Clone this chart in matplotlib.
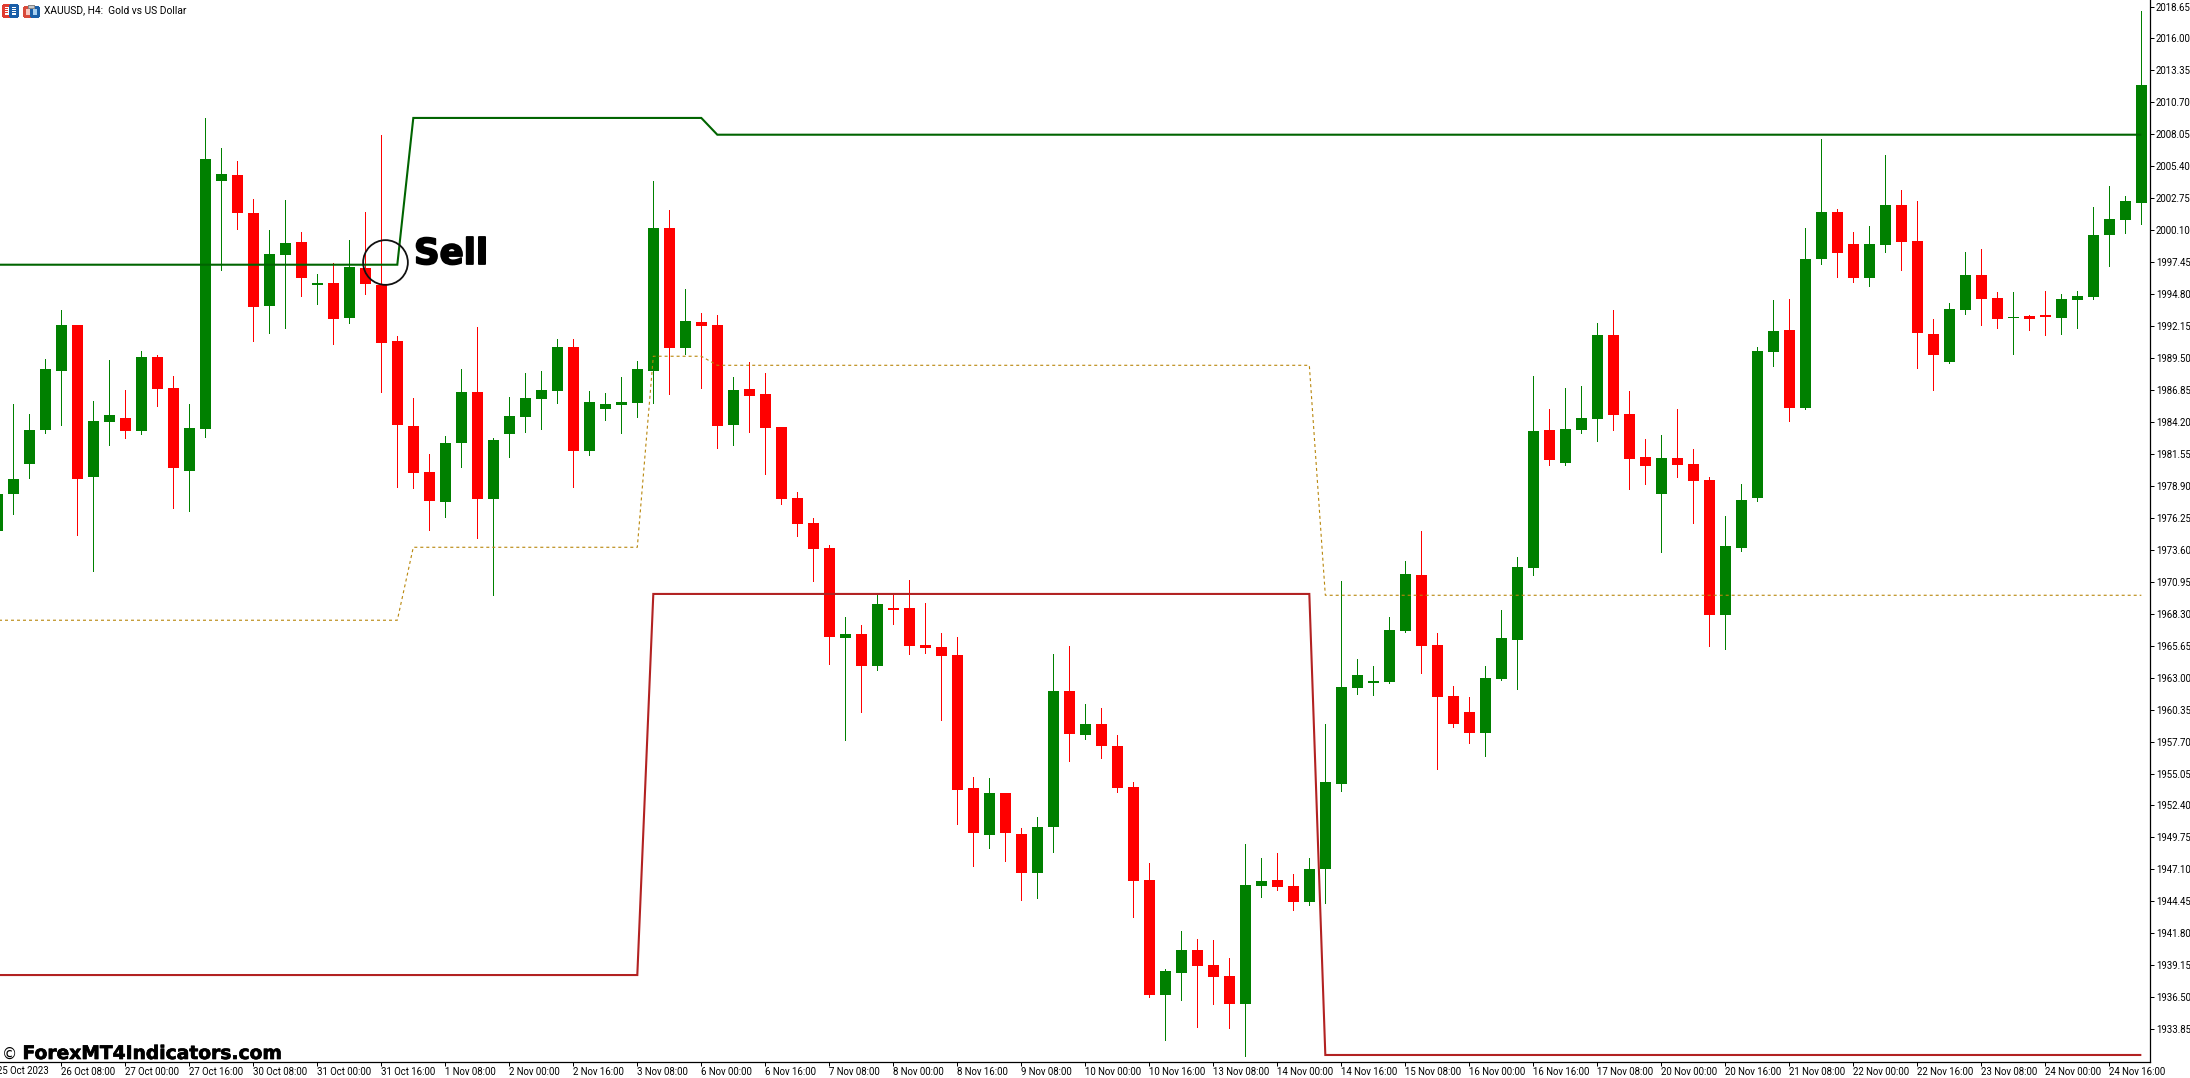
import matplotlib
matplotlib.use("Agg")
import matplotlib.pyplot as plt
import matplotlib.patheffects as pe
from matplotlib.patches import Rectangle

opens = [1975.16,1978.23,1980.72,1983.54,1988.43,1992.24,1979.64,1984.20,1984.53,1983.45,
         1989.59,1987.02,1980.14,1983.62,2004.18,2004.68,2001.53,1993.82,1998.05,1999.13,
         1995.56,1995.73,1992.82,1996.97,1995.56,1990.92,1983.87,1980.05,1977.57,1982.46,
         1986.69,1977.81,1983.20,1984.61,1986.11,1986.77,1990.41,1981.79,1985.27,1985.60,
         1985.77,1988.42,2000.28,1990.33,1992.49,1992.24,1983.95,1986.93,1986.52,1983.78,
         1977.89,1975.82,1973.75,1966.29,1966.62,1963.97,1968.78,1968.77,1965.70,1965.54,
         1964.87,1953.84,1949.95,1953.43,1950.03,1946.80,1950.61,1961.89,1958.24,1959.15,
         1957.33,1953.93,1946.22,1936.68,1938.50,1940.41,1939.17,1938.26,1935.93,1945.72,
         1946.22,1945.72,1944.39,1947.13,1954.18,1962.14,1962.55,1962.63,1966.86,1971.51,
         1965.70,1961.47,1960.15,1958.41,1962.89,1966.12,1972.09,1983.53,1980.80,1983.53,
         1984.45,1991.41,1984.86,1981.30,1978.23,1981.21,1980.72,1979.39,1968.19,1973.75,
         1977.90,1990.00,1991.83,1985.36,1997.71,2001.61,1998.96,1996.14,1998.87,2002.19,
         1999.21,1991.49,1989.17,1993.48,1996.39,1994.48,1992.82,1992.99,1993.07,1992.82,
         1994.31,1994.56,1999.70,2000.95,2002.36]
closes = [1978.23,1979.47,1983.54,1988.59,1992.24,1979.47,1984.28,1984.78,1983.45,1989.59,
          1986.94,1980.39,1983.70,2006.01,2004.76,2001.53,1993.74,1998.13,1999.04,1996.14,
          1995.73,1992.74,1997.05,1995.64,1990.75,1983.95,1979.97,1977.65,1982.46,1986.69,
          1977.81,1982.71,1984.70,1986.19,1986.85,1990.42,1981.79,1985.85,1985.69,1985.85,
          1988.59,2000.28,1990.33,1992.57,1992.16,1983.86,1986.85,1986.35,1983.70,1977.81,
          1975.74,1973.66,1966.37,1966.62,1963.97,1969.11,1968.61,1965.62,1965.45,1964.79,
          1953.68,1950.11,1953.43,1950.11,1946.80,1950.61,1961.89,1958.32,1959.15,1957.33,
          1953.84,1946.13,1936.68,1938.67,1940.41,1939.08,1938.17,1935.93,1945.80,1946.13,
          1945.64,1944.39,1947.13,1954.34,1962.22,1963.21,1962.72,1966.95,1971.59,1965.62,
          1961.39,1959.15,1958.41,1962.97,1966.29,1972.17,1983.45,1981.05,1983.62,1984.53,
          1991.41,1984.78,1981.13,1980.55,1981.21,1980.63,1979.31,1968.19,1973.92,1977.73,
          1990.09,1991.74,1985.36,1997.71,2001.61,1998.21,1996.14,1998.96,2002.19,1999.12,
          1991.58,1989.75,1993.57,1996.39,1994.40,1992.74,1992.90,1992.74,1992.90,1994.40,
          1994.65,1999.70,2001.03,2002.52,2012.14]
highs = [1978.81,1985.69,1984.86,1989.42,1993.49,1992.24,1985.94,1989.34,1986.85,1990.09,
         1989.76,1988.01,1985.69,2009.41,2006.92,2005.84,2002.69,2000.12,2002.61,1999.95,
         1996.47,1997.38,1999.29,2001.61,2008.00,1991.33,1986.19,1981.55,1983.04,1988.59,
         1992.08,1982.87,1986.27,1988.26,1988.43,1991.08,1991.08,1986.77,1986.60,1987.93,
         1989.25,2004.18,2001.77,1995.22,1993.23,1993.07,1987.93,1989.17,1988.26,1983.78,
         1978.39,1976.23,1974.00,1968.03,1967.36,1969.89,1969.89,1971.09,1969.18,1966.70,
         1966.37,1954.76,1954.67,1953.43,1950.53,1951.44,1964.96,1965.62,1960.81,1960.48,
         1958.24,1954.34,1947.62,1938.84,1941.99,1941.32,1941.24,1939.75,1949.20,1948.04,
         1948.45,1946.71,1948.04,1959.15,1971.01,1964.54,1963.96,1968.02,1972.67,1975.16,
         1966.70,1962.30,1961.39,1963.97,1968.61,1973.00,1988.01,1985.28,1987.02,1987.18,
         1992.41,1993.48,1986.77,1982.79,1983.12,1985.28,1981.96,1979.64,1976.40,1979.06,
         1990.42,1994.31,1994.40,2000.28,2007.66,2001.86,1999.95,2000.45,2006.34,2003.44,
         2002.52,1992.74,1994.06,1998.29,1998.54,1994.98,1994.98,1993.07,1995.06,1994.81,
         1995.06,2002.03,2003.77,2002.94,2018.28]
lows = [1974.99,1976.57,1979.56,1983.32,1983.95,1974.83,1971.84,1982.29,1982.87,1983.20,
        1985.53,1977.07,1976.82,1982.96,1996.80,2000.20,1990.92,1991.58,1991.99,1994.65,
        1993.98,1990.67,1992.41,1994.81,1986.69,1978.81,1978.73,1975.24,1976.32,1980.47,
        1974.58,1969.85,1981.30,1983.37,1983.62,1985.77,1978.81,1981.46,1984.36,1983.28,
        1984.61,1985.77,1986.52,1989.83,1987.01,1982.04,1982.29,1983.37,1979.88,1977.40,
        1974.74,1971.01,1964.13,1957.83,1960.15,1963.63,1967.45,1964.96,1965.04,1959.48,
        1950.86,1947.38,1948.87,1947.79,1944.56,1944.72,1948.54,1956.08,1957.91,1956.33,
        1953.51,1943.15,1936.51,1932.95,1936.27,1934.03,1935.93,1933.94,1931.62,1944.81,
        1945.39,1943.73,1944.14,1944.31,1953.60,1961.64,1961.56,1962.55,1966.78,1963.38,
        1955.42,1958.90,1957.58,1956.50,1962.80,1962.06,1971.51,1980.63,1980.63,1983.29,
        1982.62,1983.53,1978.64,1979.06,1973.42,1979.64,1975.82,1965.62,1965.37,1973.50,
        1977.65,1988.84,1984.28,1985.30,1997.30,1996.22,1995.81,1995.47,1998.29,1996.80,
        1988.68,1986.85,1989.09,1993.15,1992.24,1991.99,1989.84,1991.83,1991.41,1991.49,
        1991.99,1994.40,1997.13,1999.87,2000.62]

upper_idx = [0, 25, 26, 44, 45, 134]
upper_val = [1997.24, 1997.24, 2009.41, 2009.41, 2008.02, 2008.02]
lower_idx = [0, 40, 41, 82, 83, 134]
lower_val = [1938.34, 1938.34, 1969.94, 1969.94, 1931.71, 1931.71]
mid_idx = [0, 25, 26, 40, 41, 44, 45, 82, 83, 134]
mid_val = [1967.76, 1967.76, 1973.81, 1973.81, 1989.65, 1989.65, 1988.90, 1988.90, 1969.83, 1969.83]

price_ticks = ["2018.65","2016.00","2013.35","2010.70","2008.05","2005.40","2002.75","2000.10",
               "1997.45","1994.80","1992.15","1989.50","1986.85","1984.20","1981.55","1978.90",
               "1976.25","1973.60","1970.95","1968.30","1965.65","1963.00","1960.35","1957.70",
               "1955.05","1952.40","1949.75","1947.10","1944.45","1941.80","1939.15","1936.50","1933.85"]
time_labels = ["25 Oct 2023","26 Oct 08:00","27 Oct 00:00","27 Oct 16:00","30 Oct 08:00","31 Oct 00:00",
               "31 Oct 16:00","1 Nov 08:00","2 Nov 00:00","2 Nov 16:00","3 Nov 08:00","6 Nov 00:00",
               "6 Nov 16:00","7 Nov 08:00","8 Nov 00:00","8 Nov 16:00","9 Nov 08:00","10 Nov 00:00",
               "10 Nov 16:00","13 Nov 08:00","14 Nov 00:00","14 Nov 16:00","15 Nov 08:00","16 Nov 00:00",
               "16 Nov 16:00","17 Nov 08:00","20 Nov 00:00","20 Nov 16:00","21 Nov 08:00","22 Nov 00:00",
               "22 Nov 16:00","23 Nov 08:00","24 Nov 00:00","24 Nov 16:00"]
title = "XAUUSD, H4:  Gold vs US Dollar"
signal_text = "Sell"
signal_idx = 24.2
signal_price = 1997.49
watermark = "ForexMT4Indicators.com"

W, H = 2190, 1078
UP, DOWN = "#008000", "#FF0000"
plt.rcParams["font.family"] = ["Roboto", "DejaVu Sans"]
fig = plt.figure(figsize=(W / 100, H / 100), dpi=100, facecolor="white")
ax = fig.add_axes([0, (H - 1061.5) / H, 2149.5 / W, 1061.5 / H])
ax.set_facecolor("white")
ax.set_xlim(0.169, 134.51)
ax.set_ylim(1931.17, 2019.19)

idx = list(range(len(opens)))
cols = [UP if c >= o else DOWN for o, c in zip(opens, closes)]
ax.vlines(idx, lows, highs, colors=cols, linewidth=0.72, antialiased=False, zorder=2)
ax.bar(idx, [abs(c - o) for o, c in zip(opens, closes)],
       bottom=[min(o, c) for o, c in zip(opens, closes)],
       width=11 / 16, color=cols, linewidth=0, antialiased=False, zorder=3)

ax.plot(mid_idx, mid_val, color="#B8860B", lw=0.8, ls=(0, (2.7, 2.7)), antialiased=True, zorder=4)
ax.plot(upper_idx, upper_val, color="#006400", lw=1.5, antialiased=True, zorder=4,
        solid_capstyle="butt", solid_joinstyle="miter")
ax.plot(lower_idx, lower_val, color="#B22222", lw=1.5, antialiased=True, zorder=4,
        solid_capstyle="butt", solid_joinstyle="miter")

ax.plot([signal_idx], [signal_price], marker="o", ms=32.2, mfc="none", mec="#111111", mew=1.3, zorder=6)

for s in ("top", "left"):
    ax.spines[s].set_visible(False)
for s in ("right", "bottom"):
    ax.spines[s].set_linewidth(0.9)
    ax.spines[s].set_color("black")

ax.yaxis.tick_right()
ax.set_yticks([float(t) for t in price_ticks], price_ticks)
ax.tick_params(axis="y", length=3.2, width=0.72, pad=1.5, labelsize=6.9, colors="black")
ax.set_xticks(idx[4::4], time_labels[1:])
ax.tick_params(axis="x", length=3.2, width=0.72, pad=0.8, labelsize=6.9, colors="black")
for lab in ax.get_xticklabels():
    lab.set_ha("left")
ax.text(0, -0.0045, time_labels[0], transform=ax.get_xaxis_transform(), ha="left", va="top",
        fontsize=6.9, clip_on=False)


def px(x, y):
    return x / W, 1 - y / H


fig.text(*px(43.5, 10), title, fontsize=7.4, ha="left", va="center", color="black")
x_s, y_s = px(414, 264)
fig.text(x_s, y_s, signal_text, fontsize=25.6, family="DejaVu Sans", fontweight="bold", color="black",
         ha="left", va="baseline", path_effects=[pe.withStroke(linewidth=1.3, foreground="black")])
x_w, y_w = px(22.5, 1059)
fig.text(x_w, y_w, watermark, fontsize=13.45, family="DejaVu Sans", fontweight="bold", color="black",
         ha="left", va="baseline",
         path_effects=[pe.withStroke(linewidth=0.5, foreground="black")])
x_c, y_c = px(1.5, 1059)
fig.text(x_c, y_c, "©", fontsize=11, family="DejaVu Sans", color="black", ha="left", va="baseline")


def box(x0, y0, w, h, fc, ec="none", lw=0.0):
    fig.add_artist(Rectangle(px(x0, y0 + h), w / W, h / H, transform=fig.transFigure,
                             facecolor=fc, edgecolor=ec, linewidth=lw, antialiased=False))


box(2.5, 5.5, 7, 10, "white", "#E03C31", 0.9)
box(9.5, 5.5, 7, 10, "white", "#1A5FA8", 0.9)
for yy in (8.5, 10.5, 12.5):
    box(4, yy, 4, 0.8, "#E03C31")
    box(10.5, yy, 5, 0.8, "#1A5FA8")
box(23.5, 6.5, 7, 9, "#F8C8C0", "#D84A3A", 0.9)
box(31, 6.5, 7, 9, "#A8D0F0", "#1A5FA8", 0.9)
box(28, 5, 6, 3, "#C8C8C8", "#888888", 0.7)

fig.savefig("out.png", dpi=100, facecolor="white")
